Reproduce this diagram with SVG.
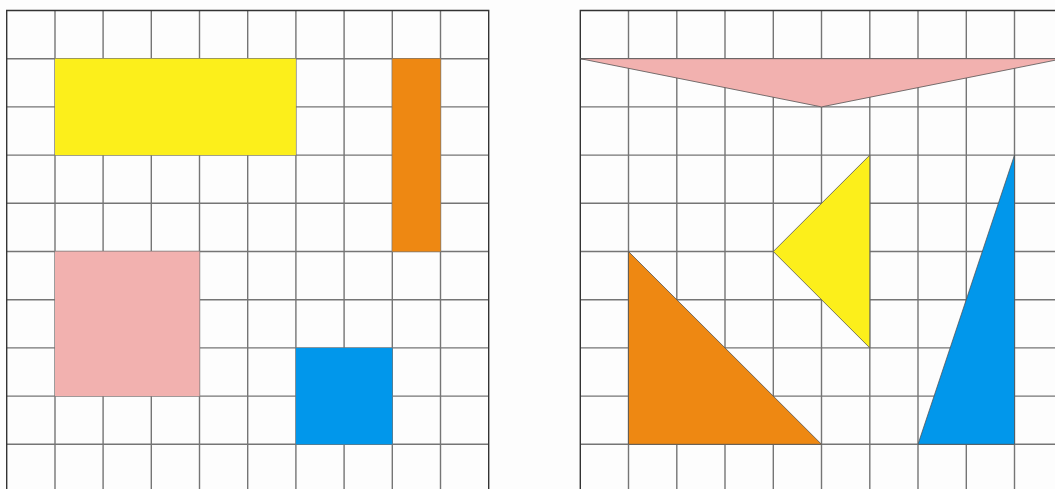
<svg xmlns="http://www.w3.org/2000/svg" width="1055" height="489" viewBox="0 0 1055 489">
<defs>
<style>
.g{stroke:#757575;stroke-width:1.4;fill:none}
.b{stroke:#333;stroke-width:1.4;fill:none}
.s{stroke:#555;stroke-width:0.8}
.yel{fill:#FCEF1B}.ora{fill:#EE8812}.pin{fill:#F2B1AF}.blu{fill:#0197EB}
</style>
</defs>
<rect width="1055" height="489" fill="#fdfdfd"/>
<g id="left-grid">
<path class="g" d="M55 10.5V489M103.1 10.5V489M151.3 10.5V489M199.5 10.5V489M247.7 10.5V489M295.9 10.5V489M344.1 10.5V489M392.3 10.5V489M440.5 10.5V489"/>
<path class="g" d="M6.7 58.7H488.7M6.7 106.9H488.7M6.7 155.1H488.7M6.7 203.3H488.7M6.7 251.5H488.7M6.7 299.7H488.7M6.7 347.9H488.7M6.7 396.1H488.7M6.7 444.3H488.7"/>
<path class="b" d="M6.7 489V10.5H488.7V489"/>
</g>
<g id="right-grid">
<path class="g" d="M628.5 10.5V489M676.8 10.5V489M725 10.5V489M773.3 10.5V489M821.5 10.5V489M869.8 10.5V489M918 10.5V489M966.3 10.5V489M1014.5 10.5V489"/>
<path class="g" d="M580.3 58.7H1055M580.3 106.9H1055M580.3 155.1H1055M580.3 203.3H1055M580.3 251.5H1055M580.3 299.7H1055M580.3 347.9H1055M580.3 396.1H1055M580.3 444.3H1055"/>
<path class="b" d="M580.3 489V10.5H1055"/>
</g>
<g id="yellow-rect"><rect class="yel" x="55" y="58.7" width="240.9" height="96.4"/></g>
<g id="orange-rect"><rect class="ora" x="392.3" y="58.7" width="48.2" height="192.8"/></g>
<g id="pink-square"><rect class="pin" x="55" y="251.5" width="144.5" height="144.6"/></g>
<g id="blue-square"><rect class="blu" x="295.9" y="347.9" width="96.4" height="96.4"/></g>
<g id="pink-triangle"><polygon class="pin s" points="580.3,58.7 1062.8,58.7 821.5,106.9"/></g>
<g id="yellow-triangle"><polygon class="yel s" points="869.8,155.1 869.8,347.9 773.3,251.5"/></g>
<g id="orange-triangle"><polygon class="ora s" points="628.5,251.5 628.5,444.3 821.5,444.3"/></g>
<g id="blue-triangle"><polygon class="blu s" points="1014.5,155.1 1014.5,444.3 918,444.3"/></g>
</svg>
